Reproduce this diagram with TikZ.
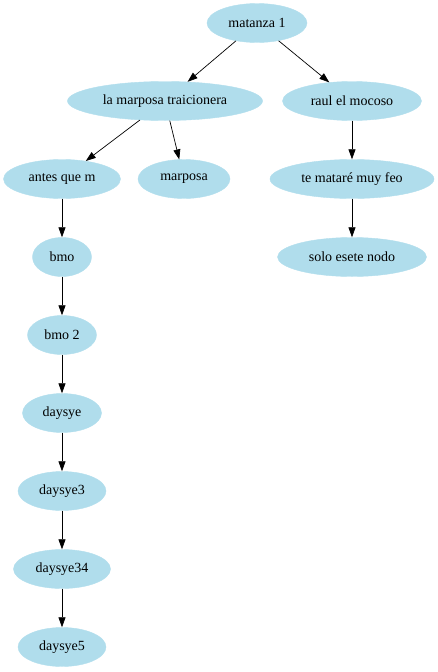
\documentclass[tikz,border=0pt]{standalone}
\usepackage{fontspec}
\setmainfont{Liberation Serif}
\usepackage{tikz}
\usetikzlibrary{arrows.meta,shapes.geometric}
\definecolor{nodeblue}{RGB}{176,221,236}
\tikzset{
  nodo/.style={ellipse, draw=nodeblue, fill=nodeblue, minimum height=39pt,
               inner sep=0pt, font=\fontsize{14}{16}\selectfont, text centered},
  arr/.style={-{Triangle[length=10pt, width=7pt]}, line width=0.7pt, black},
}
\begin{document}
\begin{tikzpicture}[x=1pt, y=-1pt]
        \useasboundingbox (0,0) rectangle (438,672);

        % Top
        \node[nodo, minimum width=100pt] (matanza) at (257,23) {matanza 1};

        % Second level
        \node[nodo, minimum width=195pt] (traicionera) at (165,101) {la marposa traicionera};
        \node[nodo, minimum width=139pt] (raul)        at (352,101) {raul el mocoso};

        % Third level
        \node[nodo, minimum width=117pt] (antes)   at (62,179)  {antes que m};
        \node[nodo, minimum width=92pt]  (marposa) at (184,179) {marposa};
        \node[nodo, minimum width=164pt] (matare)  at (352,179) {te mataré muy feo};
        \node[nodo, minimum width=149pt] (solo)    at (352,257) {solo esete nodo};

        % Left chain
        \node[nodo, minimum width=59pt] (bmo)        at (62,257) {bmo};
        \node[nodo, minimum width=69pt] (bmodos)     at (62,335) {bmo 2};
        \node[nodo, minimum width=79pt] (daysye)     at (62,413) {daysye};
        \node[nodo, minimum width=88pt] (daysyetres) at (62,491) {daysye3};
        \node[nodo, minimum width=97pt] (daysyetc)   at (62,569) {daysye34};
        \node[nodo, minimum width=88pt] (daysyecin)  at (62,647) {daysye5};

        % Edges
        \draw[arr] (matanza) -- (traicionera);
        \draw[arr] (matanza) -- (raul);
        \draw[arr] (traicionera) -- (antes);
        \draw[arr] (traicionera) -- (marposa);
        \draw[arr] (raul) -- (matare);
        \draw[arr] (matare) -- (solo);
        \draw[arr] (antes) -- (bmo);
        \draw[arr] (bmo) -- (bmodos);
        \draw[arr] (bmodos) -- (daysye);
        \draw[arr] (daysye) -- (daysyetres);
        \draw[arr] (daysyetres) -- (daysyetc);
        \draw[arr] (daysyetc) -- (daysyecin);
      \end{tikzpicture}
\end{document}
